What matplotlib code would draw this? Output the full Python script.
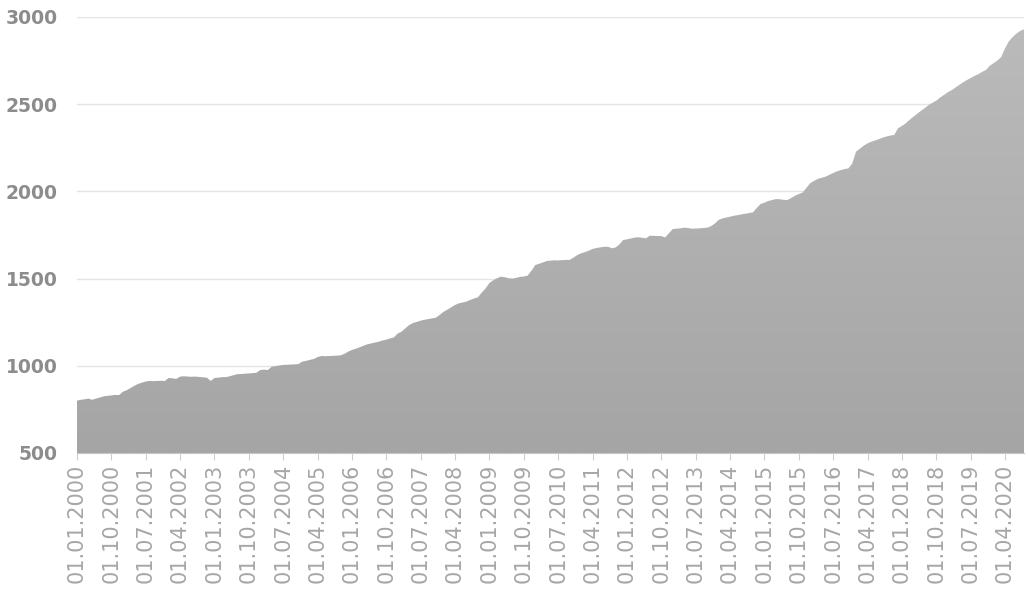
import numpy as np
import pandas as pd
import matplotlib
matplotlib.use("Agg")
import matplotlib.pyplot as plt
from matplotlib.colors import LinearSegmentedColormap

# monthly values, 01.2000 - 09.2020
v2000 = [800, 805, 808, 812, 805, 812, 818, 825, 828, 830, 833, 832]
v2001 = [851, 860, 872, 885, 896, 903, 910, 913, 912, 913, 914, 913]
v2002 = [930, 928, 925, 938, 940, 938, 937, 938, 936, 934, 932, 913]
v2003 = [930, 932, 935, 935, 940, 946, 952, 953, 955, 956, 958, 960]
v2004 = [976, 978, 976, 995, 998, 1002, 1005, 1006, 1007, 1008, 1010, 1024]
v2005 = [1028, 1034, 1039, 1050, 1056, 1055, 1056, 1057, 1058, 1060, 1068, 1081]
v2006 = [1091, 1098, 1106, 1115, 1123, 1128, 1133, 1138, 1145, 1150, 1157, 1163]
v2007 = [1185, 1196, 1215, 1234, 1245, 1252, 1259, 1264, 1268, 1272, 1276, 1292]
v2008 = [1310, 1322, 1335, 1349, 1358, 1363, 1368, 1378, 1386, 1393, 1420, 1444]
v2009 = [1475, 1490, 1502, 1511, 1508, 1502, 1500, 1504, 1510, 1512, 1517, 1545]
v2010 = [1578, 1585, 1592, 1601, 1603, 1605, 1604, 1606, 1607, 1607, 1620, 1635]
v2011 = [1645, 1652, 1660, 1670, 1675, 1679, 1682, 1683, 1674, 1678, 1695, 1721]
v2012 = [1725, 1730, 1735, 1737, 1734, 1731, 1746, 1745, 1744, 1744, 1736, 1760]
v2013 = [1784, 1786, 1788, 1792, 1790, 1786, 1787, 1788, 1790, 1792, 1800, 1815]
v2014 = [1836, 1845, 1850, 1855, 1860, 1864, 1868, 1872, 1876, 1880, 1905, 1928]
v2015 = [1935, 1945, 1950, 1956, 1955, 1952, 1950, 1962, 1975, 1985, 1993, 2020]
v2016 = [2047, 2060, 2072, 2078, 2084, 2095, 2105, 2115, 2122, 2128, 2132, 2160]
v2017 = [2228, 2245, 2262, 2275, 2285, 2292, 2300, 2308, 2315, 2320, 2324, 2362]
v2018 = [2375, 2390, 2410, 2428, 2445, 2462, 2478, 2495, 2508, 2520, 2538, 2553]
v2019 = [2568, 2580, 2595, 2610, 2625, 2638, 2650, 2662, 2672, 2685, 2696, 2720]
v2020 = [2735, 2750, 2770, 2820, 2860, 2885, 2905, 2920, 2930]

values = np.array(v2000 + v2001 + v2002 + v2003 + v2004 + v2005 + v2006 + v2007
                  + v2008 + v2009 + v2010 + v2011 + v2012 + v2013 + v2014
                  + v2015 + v2016 + v2017 + v2018 + v2019 + v2020, dtype=float)
dates = pd.date_range("2000-01-01", periods=len(values), freq="MS")
x = np.arange(len(values))

fig = plt.figure(figsize=(10.28, 5.92), dpi=100)
ax = fig.add_axes([0.0749, 0.2348, 0.9213, 0.7365])

ymin, ymax = 500, 3000
poly = ax.fill_between(x, values, ymin, color="none", lw=0)

# vertical gradient clipped to the area
cmap = LinearSegmentedColormap.from_list("g", ["#a5a5a5", "#bbbbbb"])
grad = np.linspace(0, 1, 256).reshape(-1, 1)
im = ax.imshow(grad, cmap=cmap, aspect="auto", origin="lower",
               extent=[x[0], x[-1], ymin, ymax], zorder=2)
im.set_clip_path(poly.get_paths()[0], transform=ax.transData)

ax.set_xlim(x[0], x[-1])
ax.set_ylim(ymin, ymax)
ax.set_yticks(np.arange(500, 3001, 500))
ax.yaxis.grid(True, color="#e4e4e4", lw=1)
ax.set_axisbelow(True)

tick_idx = x[::9]
ax.set_xticks(tick_idx)
ax.set_xticklabels([dates[i].strftime("%d.%m.%Y") for i in tick_idx],
                   rotation=90, fontsize=15, color="#a6a6a6")
ax.tick_params(axis="x", length=5, color="#d0d0d0", pad=3)
ax.tick_params(axis="y", length=0, labelsize=13.5, labelcolor="#8c8c8c", pad=14)
for lab in ax.get_yticklabels():
    lab.set_fontweight("semibold")

for s in ["top", "right", "left"]:
    ax.spines[s].set_visible(False)
ax.spines["bottom"].set_color("#c8c8c8")
ax.spines["bottom"].set_zorder(3)

fig.savefig("out.png", dpi=100)
